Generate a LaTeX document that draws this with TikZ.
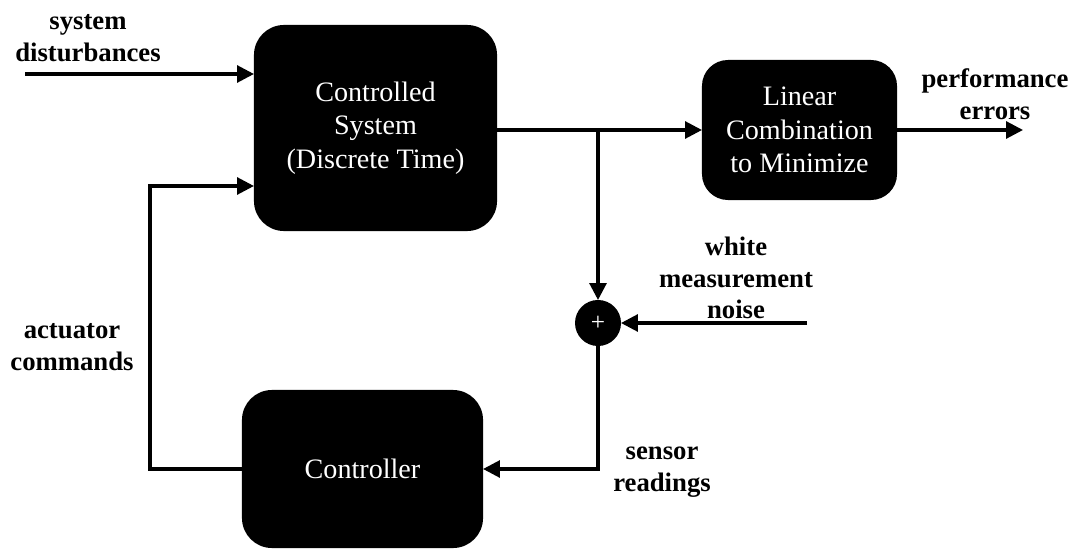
\documentclass[tikz,border=0pt]{standalone}
\usepackage{fontspec}
\setmainfont{Liberation Serif}
\usetikzlibrary{arrows.meta}
\begin{document}
\begin{tikzpicture}[x=0.025cm,y=-0.025cm,inner sep=0pt,outer sep=0pt,line width=2.2pt,
>={Triangle[length=12pt,width=12pt]},
sysblock/.style={fill=black,text=white,rectangle,rounded corners=0.75cm,align=center,font=\fontsize{20}{24}\selectfont},
sumnode/.style={fill=black,circle,minimum size=1.15cm},
sigtext/.style={align=center,font=\bfseries\fontsize{19}{22.5}\selectfont}]
\useasboundingbox (0,0) rectangle (1071,550);

\draw (375.5,128) node[sysblock,minimum width=6.075cm,minimum height=5.15cm] (plant) {Controlled\\System\\(Discrete Time)};
\draw (799.5,130) node[sysblock,minimum width=4.875cm,minimum height=3.5cm,rounded corners=0.65cm] (lincomb) {Linear\\Combination\\to Minimize};
\draw (362.5,469) node[sysblock,minimum width=6.025cm,minimum height=3.95cm] (ctrl) {Controller};
\draw (598,323) node[sumnode] (sum) {\color{white}\fontsize{18}{18}\selectfont +};

\coordinate (distin) at (25,74);
\coordinate (actcorner) at (150,186);
\coordinate (branch) at (598,130);
\coordinate (perfout) at (1023,130);
\coordinate (noisein) at (807,323);

\draw[->] (distin) -- (plant.west |- distin);
\draw[->] (ctrl.west) -| (actcorner) -- (plant.west |- actcorner);
\draw[->] (plant.east |- lincomb.west) -- (lincomb.west);
\draw[->] (lincomb.east) -- (perfout);
\draw[->] (branch) -- (sum.north);
\draw[->] (noisein) -- (sum.east);
\draw[->] (sum.south) |- (ctrl.east);

\node[sigtext] (distlbl) at (88,38) {system\\disturbances};
\node[sigtext] (perflbl) at (995,94) {performance\\errors};
\node[sigtext] (noiselbl) at (736,278) {white\\measurement\\noise};
\node[sigtext] (sensorlbl) at (662,472) {sensor\\readings};
\node[sigtext] (actlbl) at (72,347) {actuator\\commands};
\end{tikzpicture}
\end{document}
